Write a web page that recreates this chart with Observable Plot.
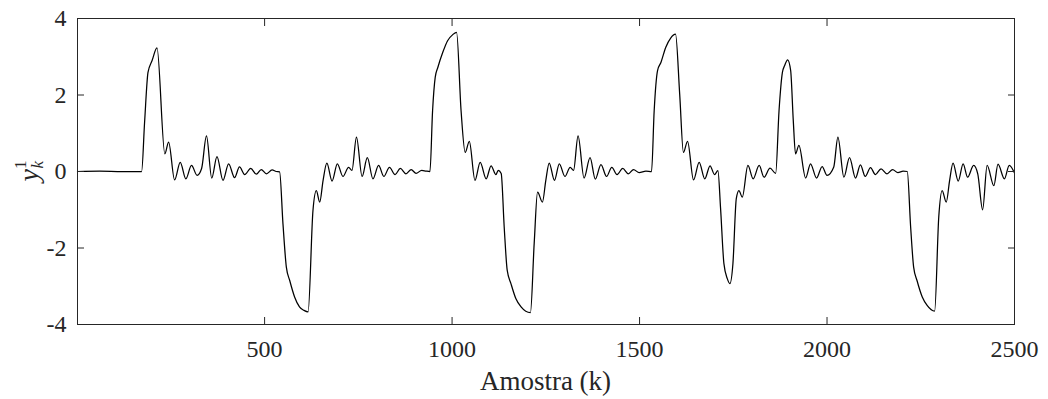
<!DOCTYPE html>
<html><head><meta charset="utf-8">
<script src="https://cdn.jsdelivr.net/npm/d3@7"></script>
<script src="https://cdn.jsdelivr.net/npm/@observablehq/plot@0.6"></script>
<style>body{margin:0;background:#fff} svg{display:block}</style>
</head><body><div id="chart"></div>
<script>
const sampleK = [1,60,120,172,180,189,200,213,234,244,260,275,290,305,320,332,345,359,373,389,404,420,433,447,463,478,491,505,520,531,540,549,558,567,580,593,605,616,629,638,647,656,666,680,694,709,724,733,745,760,774,789,804,818,833,848,862,877,891,904,919,931,941,948,955,962,975,988,1002,1012,1024,1035,1046,1061,1075,1091,1104,1117,1123,1131,1139,1147,1157,1170,1184,1209,1219,1228,1241,1250,1259,1273,1286,1301,1315,1324,1336,1352,1368,1382,1397,1412,1426,1440,1455,1470,1484,1499,1517,1532,1539,1548,1557,1570,1583,1596,1607,1617,1628,1644,1659,1674,1688,1700,1709,1716,1725,1734,1741,1749,1758,1765,1774,1789,1803,1819,1832,1848,1863,1872,1881,1887,1895,1903,1910,1916,1925,1943,1956,1972,1987,2000,2018,2029,2045,2060,2076,2089,2102,2116,2129,2144,2160,2175,2189,2203,2214,2223,2231,2240,2254,2267,2287,2298,2307,2318,2327,2336,2350,2363,2375,2391,2402,2415,2427,2445,2456,2473,2486,2500];
const sampleY = [0,0.01,0,0,1.3,2.59,2.9,3.23,0.46,0.77,-0.22,0.24,-0.19,0.16,-0.1,0.08,0.93,-0.17,0.39,-0.23,0.2,-0.16,0.12,-0.08,0.08,-0.07,0.05,-0.06,0.04,0,-0.01,-1.37,-2.5,-2.85,-3.28,-3.54,-3.63,-3.67,-1.02,-0.5,-0.8,-0.23,0.22,-0.25,0.2,-0.13,0.11,0.03,0.9,-0.13,0.36,-0.19,0.16,-0.13,0.11,-0.08,0.08,-0.06,0.05,-0.05,0.03,0.01,0,1.59,2.46,2.72,3.11,3.42,3.58,3.64,1.59,0.5,0.79,-0.23,0.24,-0.19,0.15,-0.08,0.03,-0.05,-1.45,-2.58,-2.93,-3.32,-3.54,-3.69,-1.88,-0.54,-0.8,-0.23,0.22,-0.23,0.2,-0.13,0.11,0.03,0.93,-0.17,0.36,-0.2,0.18,-0.13,0.11,-0.08,0.08,-0.06,0.05,-0.03,0.01,0,1.59,2.64,2.85,3.25,3.49,3.59,2.03,0.5,0.79,-0.22,0.24,-0.19,0.15,-0.08,0.02,-0.95,-2.41,-2.8,-2.93,-2.41,-0.71,-0.5,-0.67,0.16,-0.19,0.16,-0.15,0.09,-0.05,1.59,2.59,2.77,2.92,2.64,1.33,0.46,0.68,-0.17,0.2,-0.17,0.13,-0.1,0.12,0.9,-0.15,0.36,-0.17,0.17,-0.13,0.1,-0.08,0.07,-0.06,0.05,-0.03,0.01,0,-1.45,-2.5,-2.85,-3.28,-3.5,-3.65,-1.19,-0.5,-0.8,-0.23,0.22,-0.25,0.2,-0.15,0.16,-0.06,-1.0,0.16,-0.37,0.19,-0.19,0.16,-0.04];
const xTicks = [500,1000,1500,2000,2500];
const yTicks = [-4,-2,0,2,4];
const xLabelText = "Amostra (k)";

const rows = sampleK.map((k, i) => ({k, y: sampleY[i]}));
const ink = "#262626";
const fmt = d => String(d);

const plot = Plot.plot({
  width: 1048, height: 399,
  marginLeft: 77, marginRight: 34, marginTop: 18, marginBottom: 75,
  style: {fontFamily: "'Liberation Serif', 'Times New Roman', serif", fontSize: "24px", color: ink, background: "#fff"},
  x: {domain: [1, 2500]},
  y: {domain: [-4, 4]},
  marks: [
    Plot.line(rows, {x: "k", y: "y", stroke: "#000", strokeWidth: 1.25, curve: "monotone-x"}),
    Plot.frame({stroke: ink, strokeWidth: 1}),
    Plot.axisX(xTicks, {anchor: "bottom", tickSize: -7, tickPadding: 22, tickFormat: fmt, stroke: ink, fill: ink, label: null}),
    Plot.axisX(xTicks, {anchor: "top", tickSize: -7, tickFormat: () => "", stroke: ink, label: null}),
    Plot.axisY(yTicks, {anchor: "left", tickSize: -7, tickPadding: 18, tickFormat: fmt, stroke: ink, fill: ink, label: null}),
    Plot.axisY(yTicks, {anchor: "right", tickSize: -7, tickFormat: () => "", stroke: ink, label: null})
  ]
});
document.getElementById("chart").appendChild(plot);

const svg = d3.select(plot);
const xs = plot.scale("x"), ys = plot.scale("y");
const cx = (xs.range[0] + xs.range[1]) / 2;
svg.append("text")
  .attr("x", cx).attr("y", 390)
  .attr("text-anchor", "middle")
  .attr("font-family", "'Liberation Serif', 'Times New Roman', serif")
  .attr("font-size", 27).attr("fill", ink)
  .text(xLabelText);

const cy = (ys.range[0] + ys.range[1]) / 2;
const yl = svg.append("text")
  .attr("transform", `translate(38,${cy}) rotate(-90)`)
  .attr("text-anchor", "middle")
  .attr("font-family", "'Liberation Serif', 'Times New Roman', serif")
  .attr("font-size", 28).attr("fill", ink);
yl.append("tspan").attr("font-style", "italic").text("y");
yl.append("tspan").attr("font-size", 17).attr("dy", -12).text("1");
yl.append("tspan").attr("font-size", 17).attr("font-style", "italic").attr("dx", -8).attr("dy", 17).text("k");
</script>
</body></html>
